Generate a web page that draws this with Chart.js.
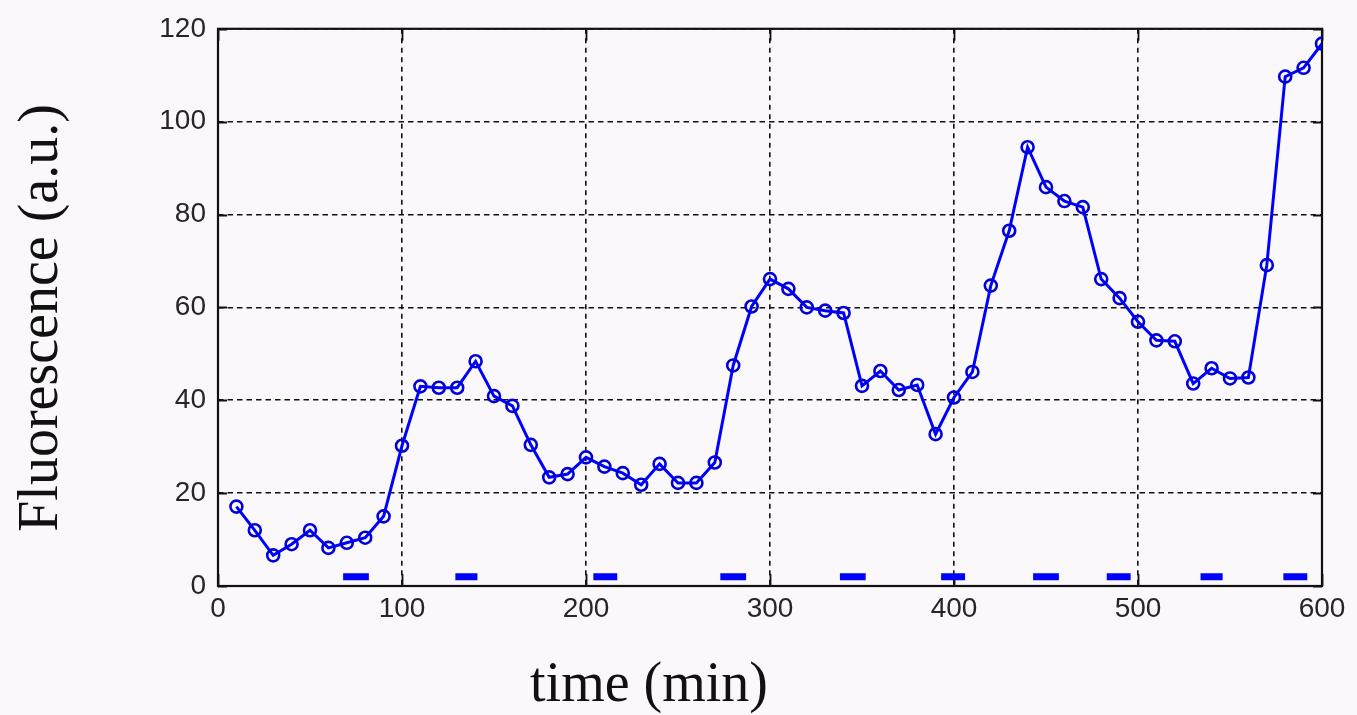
<!DOCTYPE html>
<html>
<head>
<meta charset="utf-8">
<title>Fluorescence time course</title>
<script src="https://cdn.jsdelivr.net/npm/chart.js@4/dist/chart.umd.min.js"></script>
<style>
  html, body { margin: 0; padding: 0; background: #fbf8fb; }
  #wrap { width: 1357px; height: 715px; position: relative; }
</style>
</head>
<body>
<div id="wrap"><canvas id="c" width="1357" height="715"></canvas></div>
<script>
// Sampling times (min) and measured fluorescence (a.u.)
const timeMin = [10, 20, 30, 40, 50, 60, 70, 80, 90, 100,
                 110, 120, 130, 140, 150, 160, 170, 180, 190, 200,
                 210, 220, 230, 240, 250, 260, 270, 280, 290, 300,
                 310, 320, 330, 340, 350, 360, 370, 380, 390, 400,
                 410, 420, 430, 440, 450, 460, 470, 480, 490, 500,
                 510, 520, 530, 540, 550, 560, 570, 580, 590, 600];
const fluorescence = [17.1, 12.0, 6.6, 9.0, 12.0, 8.2, 9.3, 10.4, 15.0, 30.2,
                      43.0, 42.7, 42.7, 48.4, 40.9, 38.8, 30.4, 23.4, 24.1, 27.7,
                      25.7, 24.3, 21.8, 26.3, 22.2, 22.2, 26.6, 47.5, 60.2, 66.1,
                      64.0, 60.0, 59.3, 58.8, 43.1, 46.3, 42.2, 43.3, 32.7, 40.6,
                      46.1, 64.7, 76.5, 94.5, 85.9, 82.9, 81.6, 66.1, 62.0, 56.9,
                      52.9, 52.7, 43.6, 46.9, 44.7, 44.9, 69.1, 109.7, 111.6, 116.8];

// Stimulation pulses (start / end in min), drawn as bars near the baseline
const pulseStart = [68, 129, 204, 273, 338, 393, 443, 483, 534, 579];
const pulseEnd   = [82, 141, 217, 287, 352, 406, 457, 496, 546, 592];
const pulseLevel = 2;

// Axis ticks
const xTicks = [0, 100, 200, 300, 400, 500, 600];
const yTicks = [0, 20, 40, 60, 80, 100, 120];

const xTitle = 'time (min)';
const yTitle = 'Fluorescence (a.u.)';

const seriesPoints = timeMin.map((t, i) => ({ x: t, y: fluorescence[i] }));
const pulsePoints = [];
pulseStart.forEach((s, i) => {
  pulsePoints.push({ x: s, y: pulseLevel });
  pulsePoints.push({ x: pulseEnd[i], y: pulseLevel });
  pulsePoints.push({ x: pulseEnd[i], y: null });
});

const BG = '#fbf8fb';

// Page background, box frame and inward tick marks
const framePlugin = {
  id: 'frame',
  beforeDraw(chart) {
    const ctx = chart.ctx;
    ctx.save();
    ctx.fillStyle = BG;
    ctx.fillRect(0, 0, chart.width, chart.height);
    ctx.restore();
  },
  beforeDatasetsDraw(chart) {
    const { ctx, chartArea: a, scales: { x, y } } = chart;
    ctx.save();
    ctx.strokeStyle = '#111';
    ctx.lineWidth = 1.8;
    ctx.setLineDash([]);
    ctx.beginPath();
    xTicks.forEach(v => {
      const px = Math.round(x.getPixelForValue(v)) + 0.5;
      ctx.moveTo(px, a.bottom); ctx.lineTo(px, a.bottom - 12);
      ctx.moveTo(px, a.top); ctx.lineTo(px, a.top + 12);
    });
    yTicks.forEach(v => {
      const py = Math.round(y.getPixelForValue(v)) + 0.5;
      ctx.moveTo(a.left, py); ctx.lineTo(a.left + 9, py);
      ctx.moveTo(a.right, py); ctx.lineTo(a.right - 9, py);
    });
    ctx.stroke();
    ctx.lineWidth = 2.2;
    ctx.strokeRect(a.left, a.top, a.right - a.left, a.bottom - a.top);
    ctx.restore();
  },
  afterDraw(chart) {
    const ctx = chart.ctx;
    ctx.save();
    ctx.fillStyle = '#111';
    ctx.font = '56px "Liberation Serif", "Times New Roman", serif';
    ctx.textAlign = 'center';
    ctx.textBaseline = 'alphabetic';
    ctx.fillText(xTitle, 649, 701);
    ctx.translate(57, 318);
    ctx.rotate(-Math.PI / 2);
    ctx.fillText(yTitle, 0, 0);
    ctx.restore();
  }
};

new Chart(document.getElementById('c'), {
  type: 'line',
  data: {
    datasets: [
      {
        label: 'fluorescence',
        data: seriesPoints,
        borderColor: '#0000ff',
        borderWidth: 3,
        pointRadius: 6,
        pointBorderWidth: 2.6,
        pointBorderColor: '#0000d8',
        pointBackgroundColor: 'rgba(0,0,0,0)',
        pointStyle: 'circle',
        tension: 0,
        fill: false
      },
      {
        label: 'pulses',
        data: pulsePoints,
        borderColor: '#0000ff',
        borderWidth: 7,
        borderCapStyle: 'butt',
        pointRadius: 0,
        spanGaps: false,
        tension: 0,
        fill: false
      }
    ]
  },
  options: {
    responsive: false,
    animation: false,
    events: [],
    layout: { padding: { top: 26, right: 35, left: 0, bottom: 0 } },
    plugins: {
      legend: { display: false },
      tooltip: { enabled: false },
      title: { display: false }
    },
    scales: {
      x: {
        type: 'linear',
        min: 0,
        max: 600,
        afterFit(s) { s.height = 129; },
        afterBuildTicks(s) { s.ticks = xTicks.map(v => ({ value: v })); },
        ticks: {
          color: '#262626',
          font: { family: '"Liberation Sans", Arial, sans-serif', size: 28 },
          padding: 6,
          maxRotation: 0,
          autoSkip: false
        },
        grid: { color: '#111', lineWidth: 1.6, drawTicks: false },
        border: { display: false, dash: [5, 4.5] }
      },
      y: {
        type: 'linear',
        min: 0,
        max: 120,
        afterFit(s) { s.width = 218; },
        afterBuildTicks(s) { s.ticks = yTicks.map(v => ({ value: v })); },
        ticks: {
          color: '#262626',
          font: { family: '"Liberation Sans", Arial, sans-serif', size: 28 },
          padding: 12,
          autoSkip: false
        },
        grid: { color: '#111', lineWidth: 1.6, drawTicks: false },
        border: { display: false, dash: [5.5, 4] }
      }
    }
  },
  plugins: [framePlugin]
});
</script>
</body>
</html>
